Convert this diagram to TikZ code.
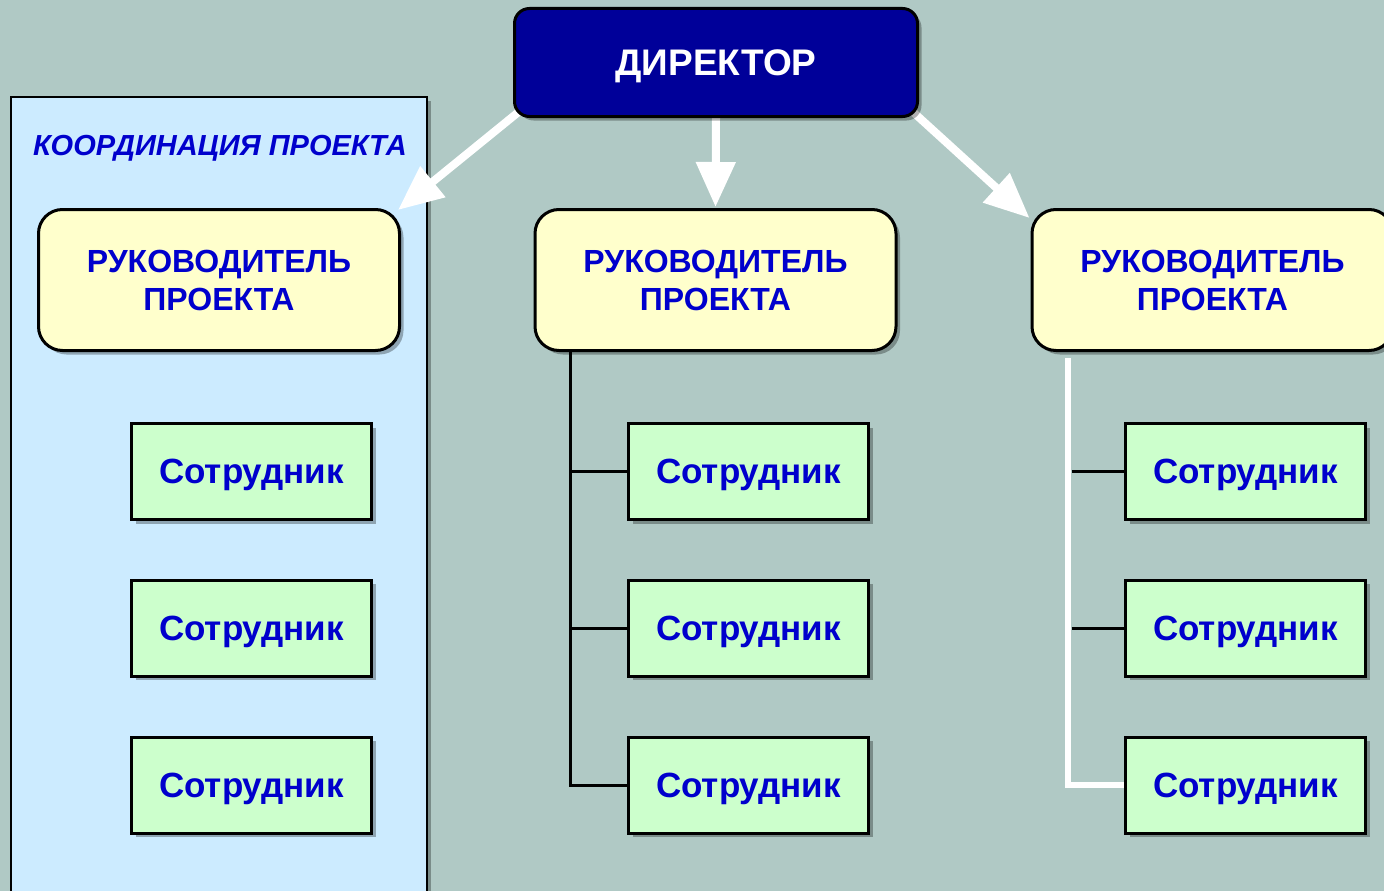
\documentclass[tikz,border=0pt]{standalone}
\usepackage{fontspec}
\setmainfont{Liberation Sans}
\usetikzlibrary{arrows.meta,shadows,calc}
\definecolor{bgc}{RGB}{176,201,197}
\definecolor{panelc}{RGB}{204,235,255}
\definecolor{dirc}{RGB}{0,0,153}
\definecolor{leadc}{RGB}{255,255,204}
\definecolor{empc}{RGB}{204,255,204}
\definecolor{txtb}{RGB}{0,0,204}
\pgfdeclarelayer{back}
\pgfsetlayers{back,main}
\begin{document}
\begin{tikzpicture}[x=1pt,y=-1pt,
  shd/.style={drop shadow={shadow xshift=4pt,shadow yshift=-4pt,opacity=0.3,fill=black}},
  dirbox/.style={shd,draw=black,line width=3pt,fill=dirc,rounded corners=15pt,
    minimum width=403pt,minimum height=108pt,text=white,text depth=0pt,
    font=\fontsize{37}{44}\selectfont\bfseries},
  leadbox/.style={shd,draw=black,line width=3pt,fill=leadc,rounded corners=24pt,
    minimum width=361pt,minimum height=141pt,text=txtb,align=center,text depth=0pt,
    font=\fontsize{32}{38}\selectfont\bfseries},
  empbox/.style={shd,draw=black,line width=3pt,fill=empc,
    minimum width=240pt,minimum height=96pt,text=txtb,text depth=0pt,
    font=\fontsize{35}{40}\selectfont\bfseries},
  conn/.style={draw=black,line width=3pt},
  wconn/.style={draw=white,line width=6pt},
  warrow/.style={draw=white,line width=8pt,-{Triangle[width=38pt,length=45pt]}}
]
\useasboundingbox (0,0) rectangle (1384,891);
\begin{pgfonlayer}{back}
  \fill[bgc] (0,0) rectangle (1384,891);
  \path[shd,draw=black,line width=2pt,fill=panelc] (11,97) rectangle (427,900);
\end{pgfonlayer}

\node[text=txtb,text depth=0pt,font=\fontsize{29}{34}\selectfont\bfseries\itshape] (coord) at (220,145) {КООРДИНАЦИЯ ПРОЕКТА};

\node[dirbox] (dir) at (716,62.5) {ДИРЕКТОР};

\node[leadbox] (l1) at (219,280) {РУКОВОДИТЕЛЬ\\ПРОЕКТА};
\node[leadbox] (l2) at (715.5,280) {РУКОВОДИТЕЛЬ\\ПРОЕКТА};
\node[leadbox] (l3) at (1212.5,280) {РУКОВОДИТЕЛЬ\\ПРОЕКТА};

\foreach \c/\x in {1/251.5,2/748.5,3/1245.5}{
  \node[empbox] (e\c1) at (\x,471.5) {Сотрудник};
  \node[empbox] (e\c2) at (\x,628) {Сотрудник};
  \node[empbox] (e\c3) at (\x,785) {Сотрудник};
}

\begin{pgfonlayer}{back}
  % arrows from director
  \draw[warrow] ($(dir.south west)+(8,-8)$) -- ($(l1.north east)+(-3,2)$);
  \draw[warrow] (dir.south) -- ($(l2.north)+(0,-1)$);
  \draw[warrow] ($(dir.south east)+(-6,-6)$) -- ($(l3.north west)+(-1,10)$);
  % middle column connectors
  \coordinate (v2) at ($(l2.south west)+(37,0)$);
  \draw[conn] (v2) |- (e23.west);
  \draw[conn] (v2 |- e21.west) -- (e21.west);
  \draw[conn] (v2 |- e22.west) -- (e22.west);
  % right column connectors
  \coordinate (v3) at ($(l3.south west)+(37,6)$);
  \draw[wconn] (v3) |- (e33.west);
  \draw[conn] ($(v3 |- e31.west)+(4,0)$) -- (e31.west);
  \draw[conn] ($(v3 |- e32.west)+(4,0)$) -- (e32.west);
\end{pgfonlayer}
\end{tikzpicture}
\end{document}
